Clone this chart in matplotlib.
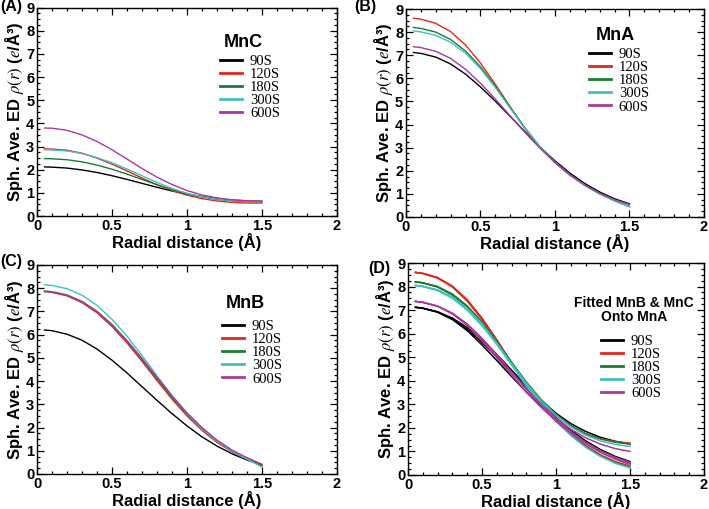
import numpy as np
import matplotlib
matplotlib.use("Agg")
import matplotlib.pyplot as plt
from matplotlib.ticker import MultipleLocator, AutoMinorLocator

plt.rcParams['font.family'] = ['Liberation Sans', 'DejaVu Sans']
plt.rcParams['mathtext.fontset'] = 'stix'

# radial distance grid (Angstrom)
r = [0.05, 0.1, 0.2, 0.3, 0.4, 0.5, 0.6, 0.7, 0.8, 0.9, 1.0, 1.1, 1.2, 1.3, 1.4, 1.5]

labels = ["90S", "120S", "180S", "300S", "600S"]
colors = ["#000000", "#e5261f", "#1d7a35", "#40c1bd", "#a9399d"]

# (A) MnC
mnc_90 = [2.12, 2.11, 2.07, 1.99, 1.88, 1.74, 1.58, 1.41, 1.24, 1.08, 0.95, 0.84, 0.75, 0.69, 0.65, 0.63]
mnc_120 = [2.90, 2.89, 2.84, 2.71, 2.50, 2.24, 1.95, 1.64, 1.35, 1.10, 0.90, 0.75, 0.65, 0.59, 0.56, 0.56]
mnc_180 = [2.48, 2.47, 2.43, 2.34, 2.20, 2.02, 1.81, 1.58, 1.35, 1.14, 0.96, 0.82, 0.72, 0.66, 0.63, 0.62]
mnc_300 = [2.86, 2.85, 2.81, 2.70, 2.52, 2.30, 2.03, 1.74, 1.45, 1.19, 0.98, 0.83, 0.73, 0.67, 0.64, 0.63]
mnc_600 = [3.80, 3.79, 3.70, 3.50, 3.22, 2.86, 2.46, 2.05, 1.68, 1.36, 1.10, 0.91, 0.78, 0.70, 0.66, 0.64]

# (B) MnA
mna_90 = [7.12, 7.08, 6.92, 6.62, 6.18, 5.63, 5.01, 4.35, 3.68, 3.03, 2.43, 1.90, 1.45, 1.08, 0.79, 0.57]
mna_120 = [8.60, 8.56, 8.38, 8.02, 7.44, 6.66, 5.74, 4.76, 3.81, 3.01, 2.35, 1.81, 1.37, 1.01, 0.71, 0.45]
mna_180 = [8.20, 8.16, 8.00, 7.68, 7.18, 6.50, 5.66, 4.74, 3.84, 3.04, 2.37, 1.82, 1.37, 1.00, 0.70, 0.45]
mna_300 = [8.05, 8.01, 7.86, 7.56, 7.08, 6.42, 5.60, 4.70, 3.82, 3.03, 2.37, 1.82, 1.37, 1.00, 0.70, 0.44]
mna_600 = [7.37, 7.33, 7.17, 6.86, 6.39, 5.79, 5.10, 4.37, 3.65, 2.97, 2.36, 1.83, 1.39, 1.03, 0.75, 0.54]

# (C) MnB
mnb_90 = [6.20, 6.17, 6.02, 5.76, 5.38, 4.90, 4.35, 3.76, 3.17, 2.60, 2.07, 1.60, 1.20, 0.87, 0.60, 0.40]
mnb_120 = [7.85, 7.82, 7.67, 7.38, 6.94, 6.35, 5.64, 4.85, 4.02, 3.22, 2.50, 1.88, 1.36, 0.95, 0.63, 0.38]
mnb_180 = [7.88, 7.85, 7.71, 7.43, 7.00, 6.42, 5.72, 4.93, 4.10, 3.30, 2.57, 1.94, 1.41, 0.98, 0.64, 0.34]
mnb_300 = [8.15, 8.12, 7.98, 7.70, 7.26, 6.66, 5.93, 5.10, 4.23, 3.38, 2.61, 1.95, 1.41, 0.98, 0.64, 0.30]
mnb_600 = [7.86, 7.83, 7.69, 7.42, 7.00, 6.44, 5.75, 4.98, 4.16, 3.36, 2.63, 2.00, 1.46, 1.03, 0.70, 0.42]

# (D) MnB and MnC fitted onto MnA
fit_b_90 = [7.12, 7.08, 6.91, 6.60, 6.13, 5.52, 4.86, 4.18, 3.52, 2.90, 2.33, 1.82, 1.38, 1.00, 0.70, 0.48]
fit_b_120 = [8.60, 8.56, 8.38, 8.00, 7.42, 6.64, 5.72, 4.74, 3.80, 2.98, 2.30, 1.73, 1.25, 0.86, 0.57, 0.38]
fit_b_180 = [8.20, 8.16, 7.99, 7.66, 7.15, 6.46, 5.63, 4.72, 3.82, 3.00, 2.30, 1.70, 1.20, 0.81, 0.52, 0.32]
fit_b_300 = [8.05, 8.01, 7.85, 7.53, 7.03, 6.36, 5.55, 4.66, 3.78, 2.98, 2.28, 1.68, 1.18, 0.79, 0.50, 0.30]
fit_b_600 = [7.37, 7.33, 7.16, 6.84, 6.35, 5.70, 4.98, 4.24, 3.52, 2.87, 2.28, 1.77, 1.33, 0.96, 0.67, 0.46]

fit_c_90 = [7.12, 7.08, 6.93, 6.66, 6.26, 5.74, 5.12, 4.45, 3.78, 3.16, 2.62, 2.18, 1.85, 1.60, 1.43, 1.32]
fit_c_120 = [8.60, 8.55, 8.36, 7.98, 7.38, 6.60, 5.70, 4.76, 3.88, 3.12, 2.52, 2.07, 1.75, 1.54, 1.42, 1.35]
fit_c_180 = [8.20, 8.15, 7.98, 7.64, 7.12, 6.44, 5.64, 4.78, 3.95, 3.20, 2.58, 2.10, 1.76, 1.53, 1.39, 1.31]
fit_c_300 = [8.05, 8.00, 7.83, 7.50, 7.00, 6.34, 5.56, 4.72, 3.90, 3.15, 2.53, 2.04, 1.69, 1.45, 1.30, 1.21]
fit_c_600 = [7.37, 7.33, 7.17, 6.87, 6.41, 5.80, 5.10, 4.36, 3.64, 2.98, 2.41, 1.94, 1.58, 1.31, 1.12, 1.00]

mnc = [mnc_90, mnc_120, mnc_180, mnc_300, mnc_600]
mna = [mna_90, mna_120, mna_180, mna_300, mna_600]
mnb = [mnb_90, mnb_120, mnb_180, mnb_300, mnb_600]
fit_b = [fit_b_90, fit_b_120, fit_b_180, fit_b_300, fit_b_600]
fit_c = [fit_c_90, fit_c_120, fit_c_180, fit_c_300, fit_c_600]

fig = plt.figure(figsize=(7.09, 5.09), dpi=100)
ax_a = fig.add_axes([0.0522, 0.5756, 0.4231, 0.4096])
ax_b = fig.add_axes([0.5726, 0.5737, 0.4203, 0.4086])
ax_c = fig.add_axes([0.0522, 0.0688, 0.4231, 0.4106])
ax_d = fig.add_axes([0.5755, 0.0668, 0.4175, 0.4165])


def style_axes(ax, tag, tag_x, tag_y):
    ax.set_xlim(0, 2)
    ax.set_ylim(0, 9)
    ax.xaxis.set_minor_locator(MultipleLocator(0.1))
    ax.yaxis.set_major_locator(MultipleLocator(1))
    ax.yaxis.set_minor_locator(AutoMinorLocator(4))
    ax.set_xticks([0, 0.5, 1, 1.5, 2])
    ax.set_xticklabels(["0", "0.5", "1", "1.5", "2"])
    ax.tick_params(which='both', direction='in', top=True, right=True,
                   labelsize=10.5, width=0.9, pad=2)
    ax.tick_params(which='major', length=5)
    ax.tick_params(which='minor', length=2.5)
    for lab in ax.get_xticklabels() + ax.get_yticklabels():
        lab.set_fontweight('bold')
    for sp in ax.spines.values():
        sp.set_linewidth(1.0)
    ax.set_xlabel("Radial distance (Å)", fontsize=12, fontweight='bold', labelpad=0)
    ax.set_ylabel(r"Sph. Ave. ED $\rho(r)$ ($e$/Å³)", fontsize=12,
                  fontweight='bold', labelpad=0)
    ax.text(tag_x, tag_y, tag, transform=ax.transAxes, fontsize=11.5,
            fontweight='bold', ha='left', va='center')


def add_legend(ax, title, tx, ty, lx, ly, title_size=13):
    ax.text(tx, ty, title, transform=ax.transAxes, ha='center', va='center',
            multialignment='center', fontsize=title_size, fontweight='bold',
            linespacing=1.0)
    leg = ax.legend(loc='upper left', bbox_to_anchor=(lx, ly), frameon=False,
                    prop={'family': 'Liberation Serif', 'size': 10.5},
                    handlelength=1.5, handletextpad=0.55, labelspacing=0.0,
                    borderpad=0, borderaxespad=0)
    for line in leg.get_lines():
        line.set_linewidth(2)


for ys, c, lab in zip(mnc, colors, labels):
    ax_a.plot(r, ys, color=c, lw=1.0, label=lab)
style_axes(ax_a, "(A)", -0.123, 1.005)
add_legend(ax_a, "MnC", 0.687, 0.83, 0.61, 0.775)

for ys, c, lab in zip(mna, colors, labels):
    ax_b.plot(r, ys, color=c, lw=1.0, label=lab)
style_axes(ax_b, "(B)", -0.172, 1.012)
add_legend(ax_b, "MnA", 0.704, 0.875, 0.614, 0.815)

for ys, c, lab in zip(mnb, colors, labels):
    ax_c.plot(r, ys, color=c, lw=1.0, label=lab)
style_axes(ax_c, "(C)", -0.123, 1.019)
add_legend(ax_c, "MnB", 0.693, 0.818, 0.617, 0.739)

for a, b, cc, c, lab in zip(mna, fit_b, fit_c, colors, labels):
    ax_d.plot(r, a, color=c, lw=1.1, label=lab)
    ax_d.plot(r, b, color=c, lw=1.1)
    ax_d.plot(r, cc, color=c, lw=1.1)
style_axes(ax_d, "(D)", -0.135, 0.975)
add_legend(ax_d, "Fitted MnB & MnC\nOnto MnA", 0.764, 0.778, 0.652, 0.663,
           title_size=10)

fig.savefig("out.png", dpi=100)
